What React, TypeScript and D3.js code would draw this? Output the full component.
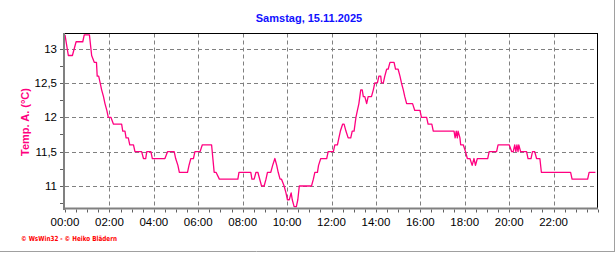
import React from "react";
import * as d3 from "d3";

// time of day in minutes, and outdoor temperature in °C
const times: number[] = [
  0, 9, 20, 30, 48, 52, 66, 72, 79, 85, 87, 91, 95, 99, 104, 108, 113, 117, 124, 131, 153, 156, 162, 165, 171, 175, 185, 189, 207, 212, 218, 221, 232, 236, 270, 277, 295, 299, 305, 309,
  331, 335, 340, 347, 351, 365, 371, 396, 403, 408, 417, 467, 470, 502, 505, 511, 516, 521, 531, 538, 543, 547, 556, 561, 567, 572, 576, 581, 585, 592, 597, 601, 606, 611, 614, 619, 625, 629, 633,
  666, 671, 675, 682, 685, 691, 707, 711, 725, 729, 736, 740, 744, 750, 754, 759, 765, 772, 776, 781, 786, 790, 794, 799, 803, 806, 810, 815, 819, 828, 833, 837, 844, 848, 853, 855, 860, 864, 869, 873, 878, 889, 893, 900, 905, 909, 914, 918, 923, 939, 945, 959, 963, 977, 981, 991, 995,
  1051, 1054, 1057, 1060, 1062, 1067, 1069, 1076, 1082, 1087, 1094, 1100, 1105, 1109, 1114, 1142, 1146, 1166, 1170, 1200, 1207, 1211, 1215, 1218, 1221, 1224, 1226, 1231, 1247, 1251, 1259, 1263, 1269, 1274, 1283, 1287, 1366, 1370, 1412, 1416, 1433,
];
const temps: number[] = [
  13.2, 12.9, 12.9, 13.1, 13.1, 13.2, 13.2, 12.9, 12.8, 12.8, 12.6, 12.6, 12.5, 12.4, 12.3, 12.2, 12.1, 12.0, 12.0, 11.9, 11.9, 11.8, 11.8, 11.7, 11.7, 11.6, 11.6, 11.5, 11.5, 11.4, 11.4, 11.5, 11.5, 11.4, 11.4, 11.5, 11.5, 11.4, 11.3, 11.2,
  11.2, 11.3, 11.4, 11.4, 11.5, 11.5, 11.6, 11.6, 11.2, 11.2, 11.1, 11.1, 11.2, 11.2, 11.1, 11.1, 11.2, 11.2, 11.0, 11.0, 11.1, 11.2, 11.2, 11.3, 11.4, 11.3, 11.2, 11.1, 11.1, 11.0, 10.9, 10.8, 10.8, 10.9, 10.8, 10.7, 10.7, 10.8, 11.0,
  11.0, 11.1, 11.2, 11.2, 11.3, 11.4, 11.4, 11.5, 11.5, 11.6, 11.6, 11.7, 11.8, 11.9, 11.9, 11.8, 11.7, 11.7, 11.8, 11.8, 12.0, 12.1, 12.2, 12.4, 12.4, 12.3, 12.3, 12.2, 12.3, 12.3, 12.4, 12.5, 12.5, 12.6, 12.6, 12.5, 12.5, 12.6, 12.7, 12.7, 12.8, 12.8, 12.7, 12.7, 12.6, 12.5, 12.4, 12.3, 12.2, 12.2, 12.1, 12.1, 12.0, 12.0, 11.9, 11.9, 11.8,
  11.8, 11.7, 11.8, 11.7, 11.8, 11.7, 11.6, 11.6, 11.5, 11.4, 11.4, 11.3, 11.4, 11.3, 11.4, 11.4, 11.5, 11.5, 11.6, 11.6, 11.5, 11.5, 11.6, 11.5, 11.6, 11.5, 11.6, 11.5, 11.5, 11.4, 11.4, 11.5, 11.5, 11.4, 11.4, 11.2, 11.2, 11.1, 11.1, 11.2, 11.2,
];

const xTickMinutes: number[] = [0, 120, 240, 360, 480, 600, 720, 840, 960, 1080, 1200, 1320];
const xTickLabels: string[] = ["00:00", "02:00", "04:00", "06:00", "08:00", "10:00", "12:00", "14:00", "16:00", "18:00", "20:00", "22:00"];
const yTickValues: number[] = [11, 11.5, 12, 12.5, 13];
const yTickLabels: string[] = ["11", "11,5", "12", "12,5", "13"];
const yMinorTicks: number[] = [10.75, 11, 11.25, 11.5, 11.75, 12, 12.25, 12.5, 12.75, 13];

const title = "Samstag, 15.11.2025";
const yTitle = "Temp. A. (°C)";
const footer = "© WsWin32  -  © Heiko Blädern";

const W = 616;
const H = 253;
const L = 65;
const R = 598;
const T = 33.5;
const B = 208;

export default function App() {
  const x = d3.scaleLinear().domain([0, 1440]).range([L, R]);
  const y = d3.scaleLinear().domain([10.68, 13.22]).range([B, T]);
  const pts: [number, number][] = times.map((t, i) => [t, temps[i]]);
  const line = d3
    .line<[number, number]>()
    .x((d) => x(d[0]))
    .y((d) => y(d[1]));
  const halfHours = d3.range(0, 1441, 30);
  const font = "Arial, 'Liberation Sans', sans-serif";
  const grid = "#808080";

  return (
    <svg
      width={W}
      height={H}
      style={{ position: "absolute", left: 0, top: 0, background: "#fff" }}
    >
      <rect x={0} y={0} width={W} height={H} fill="#fff" />
      {/* outer frame */}
      <line x1={0} x2={615} y1={251.5} y2={251.5} stroke="#a0a0a0" />
      <line x1={614.5} x2={614.5} y1={0} y2={252} stroke="#a0a0a0" />

      {/* title */}
      <text x={309} y={22} textAnchor="middle" fontFamily={font} fontWeight="bold" fontSize={11} fill="#1010ff">
        {title}
      </text>

      {/* grid */}
      {yTickValues.map((v) => (
        <line key={"gy" + v} x1={L} x2={R} y1={Math.round(y(v)) + 0.5} y2={Math.round(y(v)) + 0.5} stroke={grid} strokeDasharray="4,3" />
      ))}
      {xTickMinutes.slice(1).map((m) => (
        <line key={"gx" + m} x1={Math.round(x(m)) + 0.5} x2={Math.round(x(m)) + 0.5} y1={T} y2={B} stroke={grid} strokeDasharray="4,3" />
      ))}

      {/* plot border */}
      <line x1={L} x2={R} y1={T} y2={T} stroke="#000" />
      <line x1={R - 0.5} x2={R - 0.5} y1={T} y2={B} stroke="#000" />

      {/* data line */}
      <path d={line(pts) || ""} fill="none" stroke="#ff0080" strokeWidth={1.3} strokeLinejoin="round" />

      {/* axes */}
      <line x1={64} x2={64} y1={T - 0.5} y2={B + 2} stroke="#808080" strokeWidth={2} />
      <line x1={63} x2={R} y1={B + 0.5} y2={B + 0.5} stroke="#808080" strokeWidth={2} />
      {yMinorTicks.map((v) => (
        <line key={"yt" + v} x1={60} x2={63} y1={Math.round(y(v)) + 0.5} y2={Math.round(y(v)) + 0.5} stroke="#606060" />
      ))}
      {halfHours.map((m) => (
        <line key={"xt" + m} x1={Math.round(x(m)) + 0.5} x2={Math.round(x(m)) + 0.5} y1={B + 1.5} y2={B + 4.5} stroke="#606060" />
      ))}

      {/* tick labels */}
      {yTickValues.map((v, i) => (
        <text key={"yl" + v} x={57} y={y(v) + 4} textAnchor="end" fontFamily={font} fontSize={11.5} fill="#000">
          {yTickLabels[i]}
        </text>
      ))}
      {xTickMinutes.map((m, i) => (
        <text key={"xl" + m} x={x(m)} y={226} textAnchor="middle" fontFamily={font} fontSize={11.5} fill="#000">
          {xTickLabels[i]}
        </text>
      ))}

      {/* y title */}
      <text
        transform="translate(29,122) rotate(-90)"
        textAnchor="middle"
        fontFamily={font}
        fontWeight="bold"
        fontSize={11}
        fill="#ff0080"
      >
        {yTitle}
      </text>

      {/* footer */}
      <text x={21} y={241} fontFamily="'DejaVu Sans', sans-serif" fontWeight="bold" fontSize={7} fill="#ff0000" textLength={96} lengthAdjust="spacingAndGlyphs">
        {footer}
      </text>
    </svg>
  );
}
